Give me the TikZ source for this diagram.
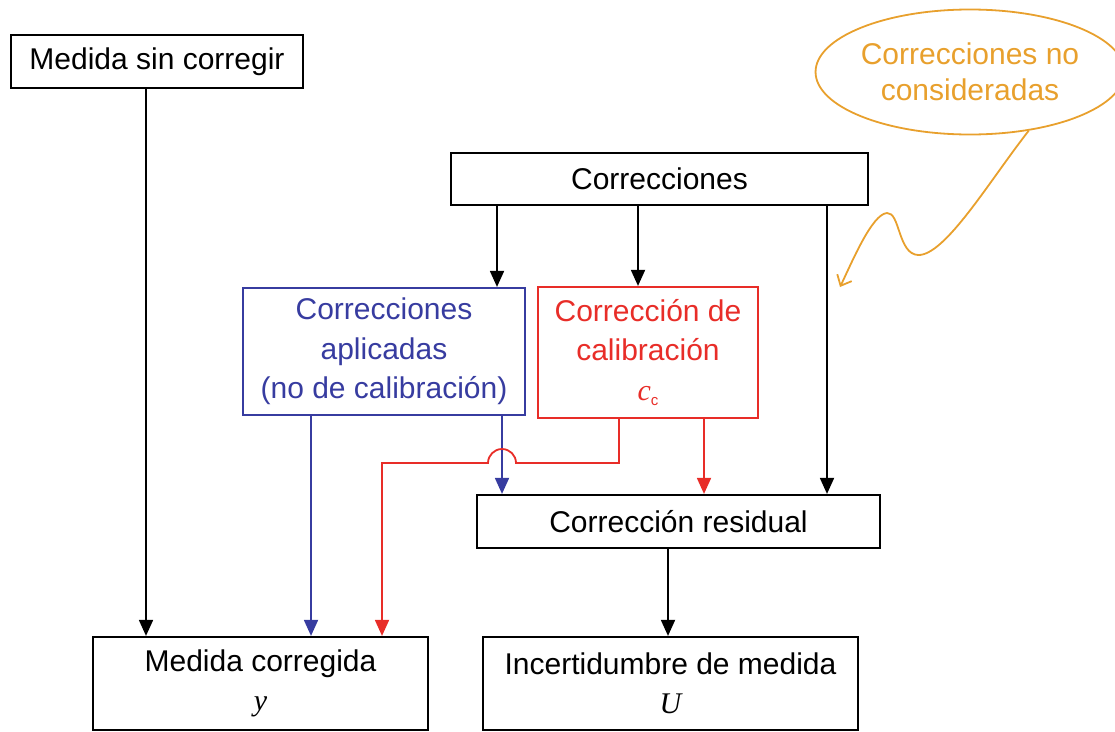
\documentclass[tikz,border=0pt]{standalone}
\usepackage{fontspec}
\setmainfont{Liberation Sans}
\newfontfamily\tnr{Liberation Serif}
\usetikzlibrary{arrows.meta,shapes.geometric}
\definecolor{cblue}{RGB}{55,60,160}
\definecolor{cred}{RGB}{232,45,40}
\definecolor{corange}{RGB}{232,160,45}
\begin{document}
\begin{tikzpicture}[x=1pt,y=-1pt,
  box/.style={draw, line width=2.2pt, inner sep=0pt, align=center,
    font=\fontsize{30}{39.5}\selectfont},
  arr/.style={line width=1.8pt, -{Triangle[length=16pt,width=14pt]}},
  ln/.style={line width=1.8pt}]
\useasboundingbox (0,0) rectangle (1115,731);
% nodes
\node[box, minimum width=292pt, minimum height=53pt] (msc) at (157,61.5) {Medida sin corregir};
\node[box, minimum width=417pt, minimum height=52pt] (corr) at (659.5,179) {Correcciones};
\node[box, draw=cblue, text=cblue, minimum width=282pt, minimum height=127pt] (apl) at (384,351.5)
  {Correcciones\\aplicadas\\(no de calibración)};
\node[box, draw=cred, text=cred, minimum width=220pt, minimum height=131pt] (cal) at (648,352.5)
  {Corrección de\\calibración\\{\tnr\itshape c}\raisebox{-5pt}{\fontsize{15}{15}\selectfont c}};
\node[box, minimum width=403pt, minimum height=53pt] (res) at (678.5,521.5) {Corrección residual};
\node[box, minimum width=335pt, minimum height=93pt] (mc) at (260.5,683.5)
  {Medida corregida\\{\tnr\itshape y}};
\node[box, minimum width=375pt, minimum height=93pt] (inc) at (670.5,683.5)
  {Incertidumbre de medida\\{\tnr\itshape U}};
\node[ellipse, draw=corange, line width=1.8pt, text=corange, align=center, inner sep=0pt,
  minimum width=286pt, minimum height=125pt, font=\fontsize{30}{36}\selectfont] (ncons) at (970,72)
  {Correcciones no\\consideradas};
% x positions of connectors
\coordinate (xk1) at (146,0);
\coordinate (xk2) at (497,0);
\coordinate (xk3) at (638,0);
\coordinate (xk4) at (827,0);
\coordinate (xk5) at (668,0);
\coordinate (xb1) at (311,0);
\coordinate (xb2) at (502,0);
\coordinate (xr1) at (619,0);
\coordinate (xr2) at (382,0);
\coordinate (xr3) at (704,0);
\coordinate (yh) at (0,463);
\coordinate (hopR) at (516,463);
\coordinate (hopL) at (488,463);
% black connectors
\draw[arr] (xk1 |- msc.south) -- (xk1 |- mc.north);
\draw[arr] (xk2 |- corr.south) -- (xk2 |- apl.north);
\draw[arr] (xk3 |- corr.south) -- (xk3 |- cal.north);
\draw[arr] (xk4 |- corr.south) -- (xk4 |- res.north);
\draw[arr] (xk5 |- res.south) -- (xk5 |- inc.north);
% blue connectors
\draw[arr, cblue] (xb1 |- apl.south) -- (xb1 |- mc.north);
\draw[arr, cblue] (xb2 |- apl.south) -- (xb2 |- res.north);
% red connectors
\draw[arr, cred] (xr1 |- cal.south) -- (xr1 |- yh) -- (hopR)
  arc[start angle=0, end angle=180, radius=14pt] -- (xr2 |- yh) -- (xr2 |- mc.north);
\draw[arr, cred] (xr3 |- cal.south) -- (xr3 |- res.north);
% orange squiggle
\coordinate (sqtip) at (840,287);
\draw[corange, line width=1.8pt, -{Straight Barb[length=9pt,width=16pt]}]
  (ncons.-45) .. controls (990,180) and (945,256) .. (918,255)
  .. controls (898,254) and (900,212) .. (887,213)
  .. controls (872,214) and (852,262) .. (sqtip);
\end{tikzpicture}
\end{document}
